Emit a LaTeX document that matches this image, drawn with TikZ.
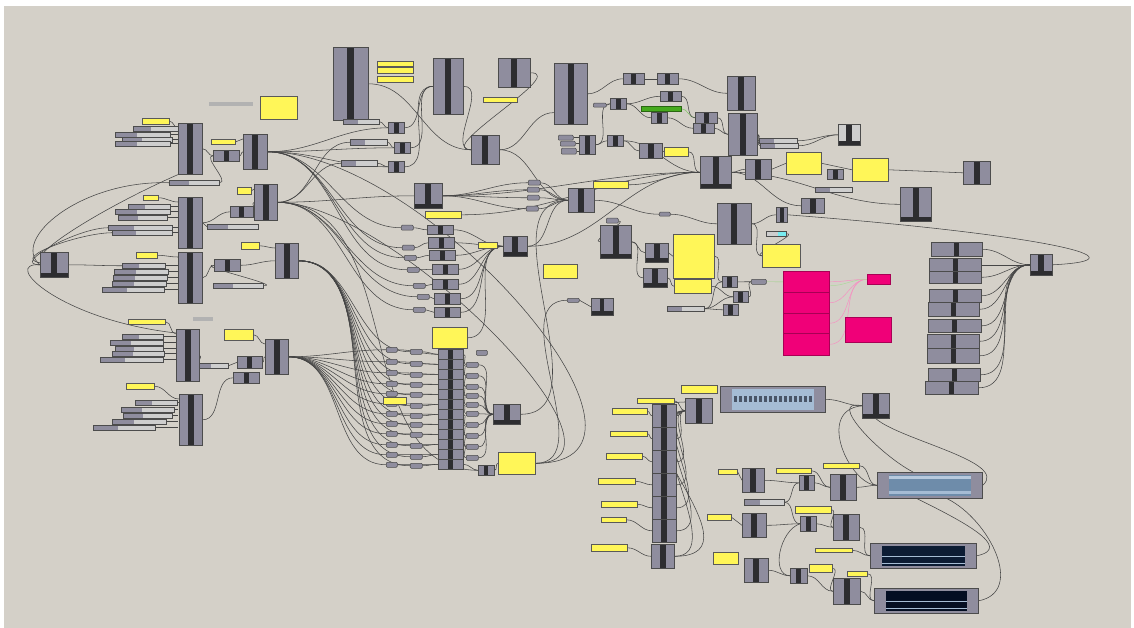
\documentclass[tikz,border=0pt]{standalone}
\usepackage{tikz}
\usetikzlibrary{calc}
\definecolor{canvas}{RGB}{212,208,200}
\definecolor{ghgray}{RGB}{143,141,158}
\definecolor{ghdark}{RGB}{45,45,48}
\definecolor{ghlight}{RGB}{206,206,206}
\definecolor{ghyellow}{RGB}{255,246,88}
\definecolor{ghpink}{RGB}{240,0,120}
\definecolor{ghgreen}{RGB}{70,170,30}
\definecolor{ghcyan}{RGB}{120,235,240}
\definecolor{wirec}{RGB}{70,70,70}
\definecolor{swlight}{RGB}{165,188,212}
\definecolor{swmid}{RGB}{110,140,170}
\definecolor{swdark}{RGB}{12,28,52}
\definecolor{swnavy}{RGB}{4,14,34}
\pgfdeclarelayer{canvaslayer}
\pgfdeclarelayer{wires}
\pgfsetlayers{canvaslayer,wires,main}

\tikzset{
  comp/.style={draw=black!70, fill=ghgray, line width=0.6pt, inner sep=0pt, anchor=north west,
    path picture={\fill[ghdark] ([xshift=-#1]path picture bounding box.north) rectangle ([xshift=#1]path picture bounding box.south);}},
  comp/.default=3pt,
  compb/.style={comp, path picture={\fill[ghdark] ([xshift=-#1]path picture bounding box.north) rectangle ([xshift=#1]path picture bounding box.south);
    \fill[ghdark] (path picture bounding box.south west) rectangle ([yshift=4pt]path picture bounding box.south east);}},
  compb/.default=3pt,
  slider/.style={draw=black!70, fill=ghlight, line width=0.5pt, inner sep=0pt, anchor=north west,
    path picture={\fill[ghgray] (path picture bounding box.south west) rectangle ($(path picture bounding box.north west)!0.4!(path picture bounding box.north east)$);}},
  panel/.style={draw=black!65, fill=ghyellow, line width=0.6pt, inner sep=0pt, anchor=north west},
  param/.style={draw=black!70, fill=ghgray, line width=0.5pt, rounded corners=1pt, inner sep=0pt, anchor=north west},
  frame/.style={draw=black!70, fill=ghgray, line width=0.6pt, inner sep=0pt, anchor=north west},
  mgbox/.style={draw=ghpink!70!black, fill=ghpink, line width=0.6pt, inner sep=0pt, anchor=north west},
  textbar/.style={fill=black!30, inner sep=0pt, anchor=north west, minimum height=4pt},
  wire/.style={draw=wirec, line width=0.55pt},
}
% node: style, name, x, y, width, height (pixels of the screenshot)
\newcommand{\gc}[6][comp]{\node[#1, minimum width=#5pt, minimum height=#6pt] (#2) at (#3,#4) {};}

\begin{document}
\begin{tikzpicture}[x=1pt, y=-1pt]
\begin{pgfonlayer}{canvaslayer}
  \fill[white] (0,0) rectangle (1134,628);
  \fill[canvas] (4,6) rectangle (1131,628);
\end{pgfonlayer}
\useasboundingbox (0,0) rectangle (1134,628);
\coordinate (xcl) at (178,0);

% left clusters
\gc[compb]{lc}{40}{252}{28}{25}
\gc[panel]{pA}{142}{118}{27}{6}
\foreach \xx/\yy/\ww [count=\i] in {133/126/45, 115/132/55, 122/137/50, 115/141/55}
  {\gc[slider]{sA\i}{\xx}{\yy}{\ww}{5}}
\gc{cA}{178}{123}{24}{51}
\gc[slider]{sA5}{169}{180}{50}{5}
\gc[panel]{pA2}{211}{139}{24}{5}
\gc[comp=2.5pt]{cA2}{213}{150}{26}{11}
\gc{cA3}{243}{134}{24}{35}
\node[textbar, minimum width=44pt] (tA) at (209,102) {};
\gc[panel]{pA3}{260}{96}{37}{23}

\gc[panel]{pB}{143}{195}{15}{5}
\foreach \xx/\yy/\ww [count=\i] in {128/204/42, 115/209/55, 118/215/49, 108/225/64, 112/230/60}
  {\gc[slider]{sB\i}{\xx}{\yy}{\ww}{5}}
\gc{cB}{178}{197}{24}{51}
\gc[slider]{sB6}{207}{224}{51}{5}
\gc[panel]{pB2}{237}{187}{14}{7}
\gc[comp=2.5pt]{cB2}{230}{206}{23}{11}
\gc{cB3}{254}{184}{23}{36}

\gc[panel]{pC}{136}{252}{21}{6}
\foreach \xx/\yy/\ww [count=\i] in {122/263/43, 114/269/54, 113/275/54, 112/281/54, 102/287/62}
  {\gc[slider]{sC\i}{\xx}{\yy}{\ww}{5}}
\gc{cC}{178}{252}{24}{51}
\gc[comp=2.5pt]{cC2}{214}{259}{26}{12}
\gc[slider]{sC6}{213}{283}{50}{5}
\gc[panel]{pC2}{241}{242}{18}{7}
\gc{cC3}{275}{243}{23}{35}

\node[textbar, minimum width=20pt] (tD) at (193,317) {};
\gc[panel]{pD}{128}{319}{37}{5}
\foreach \xx/\yy/\ww [count=\i] in {122/334/41, 110/340/53, 115/346/48, 112/351/52, 100/357/63}
  {\gc[slider]{sD\i}{\xx}{\yy}{\ww}{5}}
\gc{cD}{176}{329}{23}{52}
\gc[slider]{sD6}{199}{363}{29}{5}
\gc[panel]{pD2}{224}{329}{29}{11}
\gc[comp=2.5pt]{cD2}{237}{356}{25}{12}
\gc[comp=2.5pt]{cD3}{233}{372}{26}{11}
\gc{cD4}{265}{339}{23}{35}

\gc[panel]{pE}{126}{383}{28}{6}
\foreach \xx/\yy/\ww [count=\i] in {135/400/42, 121/407/53, 123/413/49, 112/419/54, 93/425/62}
  {\gc[slider]{sE\i}{\xx}{\yy}{\ww}{5}}
\gc{cE}{179}{394}{23}{51}

% top middle
\gc[comp=3.5pt]{cT1}{333}{47}{35}{73}
\gc[slider]{sT1}{343}{119}{36}{5}
\gc[panel]{pT1}{377}{61}{36}{5}
\gc[panel]{pT2}{377}{67}{36}{6}
\gc[panel]{pT3}{377}{76}{36}{6}
\gc{cT2}{433}{58}{30}{56}
\gc{cT3}{498}{58}{32}{29}
\gc[panel]{pT4}{483}{97}{34}{5}
\gc{cT4}{554}{63}{33}{61}
\gc[comp=2.5pt]{cs1}{388}{122}{16}{11}
\gc[comp=2.5pt]{cs2}{394}{142}{16}{11}
\gc[comp=2.5pt]{cs3}{388}{161}{16}{11}
\gc[slider]{sT2}{350}{139}{37}{6}
\gc[slider]{sT3}{341}{160}{36}{6}
\gc{cT5}{471}{135}{28}{29}
\gc[compb]{cT6}{414}{183}{28}{25}
\gc[panel]{pT5}{425}{211}{36}{7}

% middle column
\foreach \xx/\yy [count=\i] in {401/225, 402/245, 404/255, 407/267, 413/283, 417/294, 413/307}
  {\gc[param]{m\i}{\xx}{\yy}{12}{5}}
\foreach \xx/\yy/\hh [count=\i] in {427/225/9, 428/237/11, 429/250/10, 432/264/10, 432/279/10, 434/293/11, 434/307/10}
  {\gc[comp=2.5pt]{mc\i}{\xx}{\yy}{26}{\hh}}
\gc[panel]{pM1}{478}{242}{19}{6}
\gc[compb]{cM1}{503}{236}{24}{20}
\gc[panel]{pM2}{543}{264}{34}{14}
\gc[panel]{pM3}{432}{327}{35}{21}
\foreach \yy [count=\i] in {349,359,...,459}
  {\gc[comp=2.5pt]{col\i}{438}{\yy}{25}{10}}
\foreach \yy [count=\i] in {347,359,370,381,391,401,411,421,431,442,452,462}
  {\gc[param]{la\i}{386}{\yy}{11}{5}}
\foreach \yy [count=\i] in {349,361,372,382,392,403,413,422,432,443,454,463}
  {\gc[param]{lb\i}{410}{\yy}{12}{5}}
\foreach \yy [count=\i] in {362,373,384,393,402,411,422,433,444,455}
  {\gc[param]{ra\i}{466}{\yy}{12}{5}}
\gc[param]{ra0}{476}{350}{11}{5}
\gc[panel]{pM4}{383}{397}{23}{7}
\gc[compb]{cM2}{493}{404}{27}{20}
\gc[panel]{pM5}{498}{452}{37}{22}
\gc[comp=2pt]{cM3}{478}{465}{16}{10}

% upper right
\foreach \xx/\yy [count=\i] in {528/180, 527/187, 527/195, 526/206}
  {\gc[param]{u\i}{\xx}{\yy}{12}{5}}
\gc{cU1}{568}{188}{26}{24}
\gc[panel]{pU1}{593}{181}{35}{7}
\gc[param]{u5}{593}{103}{13}{4}
\gc[comp=2.5pt]{cU2}{610}{98}{16}{11}
\gc[comp=2.5pt]{cU3}{623}{73}{21}{11}
\gc[comp=2.5pt]{cU4}{657}{73}{21}{11}
\gc[comp=2.5pt]{cU5}{660}{91}{21}{10}
\node[draw=ghgreen!60!black, fill=ghgreen, line width=0.5pt, inner sep=0pt, anchor=north west,
  minimum width=40pt, minimum height=5pt] (gs) at (641,106) {};
\gc[comp=2.5pt]{cU6}{651}{112}{16}{11}
\gc[param]{u6}{558}{135}{15}{5}
\gc[param]{u7}{560}{141}{15}{5}
\gc[param]{u8}{561}{148}{15}{6}
\gc[comp=2.5pt]{cU7}{579}{135}{16}{19}
\gc[comp=2.5pt]{cU8}{607}{135}{16}{11}
\gc{cU9}{639}{143}{23}{15}
\gc[panel]{pU2}{664}{147}{24}{9}
\gc{cU10}{727}{76}{28}{34}
\gc[comp=2.5pt]{cU11}{695}{112}{22}{11}
\gc[comp=2.5pt]{cU12}{693}{123}{21}{10}
\gc{cU13}{728}{113}{29}{42}
\gc[slider]{sU1}{759}{138}{38}{5}
\gc[slider]{sU2}{760}{143}{38}{5}
\gc[compb, fill=ghlight]{cU14}{838}{124}{22}{21}
\gc[compb]{cU15}{700}{156}{31}{32}
\gc{cU16}{745}{159}{26}{20}
\gc[panel]{pU3}{786}{152}{35}{22}
\gc[comp=2.5pt]{cU17}{827}{169}{16}{10}
\gc[panel]{pU4}{852}{158}{36}{23}
\gc{cU18}{963}{161}{27}{23}
\gc[slider, fill=ghlight]{sU3}{815}{187}{37}{5}
\gc[compb]{cU19}{900}{187}{31}{34}
\gc{cU20}{801}{198}{23}{15}
\gc[param]{u9}{659}{212}{11}{4}
\gc[param]{u10}{606}{218}{12}{5}
\gc[compb]{cU21}{600}{225}{31}{33}
\gc[compb]{cU22}{645}{243}{23}{19}
\gc[compb]{cU23}{643}{268}{24}{19}
\gc[panel]{pU5}{673}{234}{41}{44}
\gc[panel]{pU6}{674}{279}{37}{14}
\gc{cU24}{717}{203}{34}{41}
\gc[comp=2pt]{cU25}{776}{207}{11}{15}
\node[slider, minimum width=20pt, minimum height=5pt, path picture={\fill[ghcyan] ([xshift=-8pt]path picture bounding box.north east) rectangle (path picture bounding box.south east);}] (cy) at (766,231) {};
\gc[panel]{pU7}{762}{244}{38}{23}
\gc[comp=2.5pt]{cU26}{722}{276}{15}{11}
\gc[comp=2.5pt]{cU27}{733}{291}{15}{11}
\gc[comp=2.5pt]{cU28}{723}{304}{15}{11}
\gc[param]{u11}{751}{279}{15}{5}
\gc[slider]{sU4}{667}{306}{37}{5}
\gc[param]{u12}{567}{298}{12}{4}
\gc[compb=2pt]{cU29}{591}{298}{22}{17}
\foreach \yy/\hh [count=\i] in {271/21, 292/21, 313/20, 333/22}
  {\gc[mgbox]{mg\i}{783}{\yy}{46}{\hh}}
\gc[mgbox]{mg5}{845}{317}{46}{25}
\gc[mgbox]{mg6}{867}{274}{23}{10}

% right stack
\foreach \xx/\yy/\ww/\hh [count=\i] in {931/242/51/14, 929/258/52/13, 929/271/52/12, 929/289/52/13, 928/302/51/14,
    928/319/53/13, 927/334/52/14, 927/348/52/15, 928/368/52/13, 925/381/53/13}
  {\gc[comp=2.5pt]{r\i}{\xx}{\yy}{\ww}{\hh}}
\gc[compb]{cR}{1030}{254}{22}{21}

% bottom right
\gc[panel]{kp1}{681}{385}{36}{8}
\gc[frame]{bl1}{720}{386}{105}{26}
\gc[compb]{kc1}{862}{393}{27}{25}
\gc[panel]{kp2}{637}{398}{37}{5}
\foreach \yy [count=\i] in {404,427,450,473,496,519}
  {\gc{b\i}{652}{\yy}{24}{23}}
\gc{kc2}{685}{398}{27}{25}
\foreach \xx/\yy/\ww/\hh [count=\i] in {612/408/35/6, 610/431/37/5, 606/453/36/6, 598/478/37/6, 601/501/36/6, 601/517/25/5, 591/544/36/7}
  {\gc[panel]{ky\i}{\xx}{\yy}{\ww}{\hh}}
\gc{kc3}{651}{544}{23}{24}
\gc[panel]{kp3}{718}{469}{19}{5}
\gc{kc4}{742}{468}{22}{24}
\gc[panel]{kp4}{776}{468}{35}{5}
\gc[comp=2.5pt]{kc5}{799}{475}{15}{15}
\gc[panel]{kp5}{823}{463}{36}{5}
\gc{kc6}{830}{474}{26}{26}
\gc[frame]{bl2}{877}{472}{105}{26}
\gc[slider]{ks}{744}{499}{40}{6}
\gc[panel]{kp6}{795}{506}{36}{7}
\gc[comp=2.5pt]{kc7}{800}{516}{16}{15}
\gc{kc8}{833}{514}{26}{26}
\gc[panel]{kp7}{707}{514}{24}{6}
\gc{kc9}{742}{513}{24}{24}
\gc[panel]{kp8}{815}{548}{37}{4}
\gc[frame]{bl3}{870}{543}{106}{25}
\gc[panel]{kp9}{713}{552}{25}{12}
\gc{kc10}{744}{558}{24}{24}
\gc[comp=2.5pt]{kc11}{790}{568}{17}{15}
\gc[panel]{kp10}{809}{564}{23}{8}
\gc[panel]{kp11}{847}{571}{20}{5}
\gc{kc12}{833}{578}{27}{26}
\gc[frame]{bl4}{874}{588}{104}{25}

% swatch interiors
\fill[swlight] ([xshift=12pt,yshift=-3pt]bl1.north west) rectangle ([xshift=-12pt,yshift=3pt]bl1.south east);
\draw[swdark!75, line width=6pt, dash pattern=on 3pt off 2pt] ([xshift=14pt]bl1.west) -- ([xshift=-14pt]bl1.east);
\fill[swmid] ([xshift=12pt,yshift=-3pt]bl2.north west) rectangle ([xshift=-12pt,yshift=3pt]bl2.south east);
\fill[swlight!80!white] ([xshift=12pt,yshift=-4pt]bl2.north west) rectangle ([xshift=-12pt,yshift=-7pt]bl2.north east);
\fill[swlight] ([xshift=12pt,yshift=5pt]bl2.south west) rectangle ([xshift=-12pt,yshift=8pt]bl2.south east);
\fill[swdark] ([xshift=12pt,yshift=-3pt]bl3.north west) rectangle ([xshift=-12pt,yshift=3pt]bl3.south east);
\draw[swlight, line width=1.2pt] ([xshift=12pt,yshift=-1pt]bl3.west) -- ([xshift=-12pt,yshift=-1pt]bl3.east);
\draw[swlight, line width=1.2pt] ([xshift=12pt,yshift=5pt]bl3.south west) -- ([xshift=-12pt,yshift=5pt]bl3.south east);
\fill[swnavy] ([xshift=12pt,yshift=-3pt]bl4.north west) rectangle ([xshift=-12pt,yshift=3pt]bl4.south east);
\draw[swlight, line width=1.2pt] ([xshift=12pt,yshift=-1pt]bl4.west) -- ([xshift=-12pt,yshift=-1pt]bl4.east);
\draw[swlight, line width=1.2pt] ([xshift=12pt,yshift=5pt]bl4.south west) -- ([xshift=-12pt,yshift=5pt]bl4.south east);

\begin{pgfonlayer}{wires}
  % left clusters
  \foreach \s in {sA1,sA2,sA3,sA4,sB1,sB2,sB3,sB4,sB5,sC1,sC2,sC3,sC4,sC5,sD1,sD2,sD3,sD4,sD5,sE1,sE2,sE3,sE4,sE5}
    {\draw[wire] (\s.east) -- (\s.east -| xcl);}
  \foreach \p/\c in {pA/cA, pB/cB, pC/cC, pD/cD, pE/cE}
    {\draw[wire] (\p.east) to[out=0,in=180] ([yshift=-5pt]\c.north west);}
  \draw[wire] (cA.east) to[out=0,in=180] (cA2.west);
  \draw[wire] (sA5.east) to[out=0,in=180] (cA2.west);
  \draw[wire] (cA2.east) to[out=0,in=180] (cA3.west);
  \draw[wire] (pA2.east) to[out=0,in=180] ([yshift=-5pt]cA3.north west);
  \draw[wire] (cB.east) to[out=0,in=180] (cB2.west);
  \draw[wire] (cB2.east) to[out=0,in=180] (cB3.west);
  \draw[wire] (pB2.east) to[out=0,in=180] ([yshift=-5pt]cB3.north west);
  \draw[wire] (cB.east) to[out=0,in=180] (sB6.west);
  \draw[wire] (cC.east) to[out=0,in=180] (cC2.west);
  \draw[wire] (sC6.east) to[out=0,in=180] (cC2.west);
  \draw[wire] (cC2.east) to[out=0,in=180] (cC3.west);
  \draw[wire] (pC2.east) to[out=0,in=180] ([yshift=-5pt]cC3.north west);
  \draw[wire] (cD.east) to[out=0,in=180] (sD6.west);
  \draw[wire] (sD6.east) to[out=0,in=180] (cD2.west);
  \draw[wire] (cD2.east) to[out=0,in=180] (cD4.west);
  \draw[wire] (pD2.east) to[out=0,in=180] ([yshift=-5pt]cD4.north west);
  \draw[wire] (cE.east) to[out=0,in=180] (cD3.west);
  \draw[wire] (lc.east) to[out=0,in=180] (sC1.west);
  \draw[wire] (lc.west) to[out=180,in=180] (sB4.west);
  \draw[wire] ([yshift=2pt]lc.west) to[out=170,in=180] (sB5.west);
  \draw[wire] ([xshift=-10pt]lc.north) .. controls (60,235) and (120,200) .. (cA.south west);
  \draw[wire] (lc.west) .. controls (0,262) and (60,320) .. ([yshift=-4pt]cD.north west);
  \draw[wire] (lc.west) .. controls (10,240) and (80,180) .. (sA5.west);
  % bundles to the middle
  \foreach \t in {cs1,cs2,cs3,m1,m2,m3,m4}
    {\draw[wire] (cA3.east) to[out=0,in=180] (\t.west);}
  \foreach \t in {cT6,sT2,sT3,m5,m6,m7,cM3}
    {\draw[wire] (cB3.east) to[out=0,in=180] (\t.west);}
  \foreach \i in {1,...,12} {
    \draw[wire] (cC3.east) to[out=0,in=180] (lb\i.west);
    \draw[wire] (cD4.east) to[out=0,in=180] (la\i.west);
    \draw[wire] (la\i.east) to[out=0,in=180] (col\i.west);
    \draw[wire] (lb\i.east) to[out=0,in=180] (col\i.west);
  }
  \draw[wire] (cA3.east) to[out=0,in=0] (pM5.east);
  \draw[wire] (cB3.east) to[out=0,in=0,looseness=0.8] (pM5.east);
  \foreach \i in {1,...,10} {
    \draw[wire] (col\i.east) to[out=0,in=180] (ra\i.west);
    \draw[wire] (ra\i.east) to[out=0,in=180] (cM2.west);
  }
  \draw[wire] (col12.east) to[out=0,in=180] (cM3.west);
  \draw[wire] (cM3.east) to[out=0,in=180] (pM5.west);
  \foreach \i in {1,...,7} {
    \draw[wire] (m\i.east) to[out=0,in=180] (mc\i.west);
    \draw[wire] (mc\i.east) to[out=0,in=180] (cM1.west);
  }
  \draw[wire] (pM1.east) to[out=0,in=180] (cM1.west);
  \draw[wire] (pM3.east) to[out=0,in=180] (cM1.west);
  \draw[wire] (cM1.east) to[out=0,in=180] (cU1.west);
  \draw[wire] (cM2.east) to[out=0,in=180] (cU1.west);
  \draw[wire] (pM5.east) to[out=0,in=180] (u12.west);
  \draw[wire] (u12.east) -- (cU29.west);
  % top middle
  \draw[wire] (sT1.east) to[out=0,in=180] (cs1.west);
  \draw[wire] (sT2.east) to[out=0,in=180] (cs2.west);
  \draw[wire] (sT3.east) to[out=0,in=180] (cs3.west);
  \foreach \s in {cs1,cs2,cs3}
    {\draw[wire] (\s.east) to[out=0,in=180] (cT2.west);}
  \draw[wire] (cT1.east) to[out=0,in=180] (cT5.west);
  \draw[wire] (cT2.east) to[out=0,in=180] (cT5.west);
  \draw[wire] (cT3.east) to[out=0,in=180] (cT5.west);
  \draw[wire] (cT5.east) to[out=0,in=180] ([yshift=12pt]cT4.south west);
  \draw[wire] (cT5.east) to[out=0,in=180] (cU1.west);
  \foreach \t in {u1,u2,u3,u4}
    {\draw[wire] (cT6.east) to[out=0,in=180] (\t.west);
     \draw[wire] (\t.east) to[out=0,in=180] (cU1.west);}
  % upper right
  \draw[wire] (cT4.east) to[out=0,in=180] (cU3.west);
  \draw[wire] (cU3.east) to[out=0,in=180] (cU4.west);
  \draw[wire] (cU4.east) to[out=0,in=180] (cU10.west);
  \draw[wire] (u5.east) -- (cU2.west);
  \draw[wire] (cU2.east) to[out=0,in=180] (cU5.west);
  \draw[wire] (cU2.east) to[out=0,in=180] (cU6.west);
  \draw[ghgreen!70, line width=0.5pt] (gs.east) to[out=0,in=180] (cU11.west);
  \draw[wire] (cU5.east) to[out=0,in=180] (cU11.west);
  \draw[wire] (cU6.east) to[out=0,in=180] (cU12.west);
  \draw[wire] (cU11.east) to[out=0,in=180] (cU13.west);
  \draw[wire] (cU12.east) to[out=0,in=180] (cU13.west);
  \foreach \s in {u6,u7,u8}
    {\draw[wire] (\s.east) -- (\s.east -| cU7.west);}
  \draw[wire] (cU7.east) to[out=0,in=180] (cU2.west);
  \draw[wire] (cU7.east) to[out=0,in=180] (cU8.west);
  \draw[wire] (cU8.east) to[out=0,in=180] (cU9.west);
  \draw[wire] (cU8.east) to[out=0,in=180] (cU15.west);
  \draw[wire] (cU9.east) -- (pU2.west);
  \draw[wire] (pU2.east) to[out=0,in=180] (cU15.west);
  \draw[wire] (pU1.east) to[out=0,in=180] (cU15.west);
  \draw[wire] (cT6.east) to[out=0,in=180] (cU15.west);
  \draw[wire] (cM1.east) to[out=0,in=180] (cU15.west);
  \draw[wire] (pT5.east) to[out=0,in=180] (cU15.west);
  \draw[wire] (cU13.east) to[out=0,in=180] (sU1.west);
  \draw[wire] (cU13.east) to[out=0,in=180] (sU2.west);
  \draw[wire] (sU1.east) to[out=0,in=180] (cU14.west);
  \draw[wire] (sU2.east) to[out=0,in=180] (cU14.west);
  \draw[wire] (cU15.east) to[out=0,in=180] (cU16.west);
  \draw[wire] (cU16.east) -- (pU3.west);
  \draw[wire] (pU3.east) -- (pU4.west);
  \draw[wire] (pU4.east) -- (cU18.west);
  \draw[wire] (cU15.east) to[out=0,in=180] (cU19.west);
  \draw[wire] (cU15.east) to[out=0,in=180] (cU20.west);
  \draw[wire] (cU1.east) to[out=0,in=180] (u9.west);
  \draw[wire] (u9.east) to[out=0,in=180] (cU24.west);
  \draw[wire] (u10.east) to[out=0,in=180] (cU21.west);
  \draw[wire] (cU21.east) to[out=0,in=180] (cU22.west);
  \draw[wire] (cU21.east) to[out=0,in=180] (cU23.west);
  \draw[wire] (cU22.east) to[out=0,in=180] (pU5.west);
  \draw[wire] (cU23.east) to[out=0,in=180] (pU6.west);
  \draw[wire] (pU5.east) to[out=0,in=180] (cU26.west);
  \draw[wire] (pU6.east) to[out=0,in=180] (cU27.west);
  \foreach \t in {cU26,cU27,cU28}
    {\draw[wire] (sU4.east) to[out=0,in=180] (\t.west);}
  \draw[wire] (cU26.east) to[out=0,in=180] (u11.west);
  \draw[wire] (cU27.east) to[out=0,in=180] (u11.west);
  \draw[ghgreen!55, line width=0.45pt] (u11.east) to[out=0,in=180] (mg1.west);
  \draw[wire] (cU24.east) to[out=0,in=180] (cU25.west);
  \draw[wire] (cU24.east) to[out=0,in=180] (pU7.west);
  \draw[wire] (cy.east) to[out=0,in=180] (pU7.west);
  \foreach \i in {1,...,4}
    {\draw[ghpink!45, line width=0.45pt] (mg\i.east) to[out=0,in=180] (mg6.west);}
  \draw[ghgreen!45, line width=0.45pt] ([yshift=-4pt]mg1.east) to[out=0,in=180] (mg6.west);
  % right stack
  \foreach \i in {1,...,10}
    {\draw[wire] (r\i.east) to[out=0,in=180] (cR.west);}
  \draw[wire] (cR.east) .. controls (1150,260) and (1050,235) .. (cU25.east);
  % bottom right
  \foreach \i in {1,...,6} {
    \draw[wire] (ky\i.east) to[out=0,in=180] (b\i.west);
    \draw[wire] (b\i.east) to[out=0,in=180] (kc2.west);
  }
  \draw[wire] (ky7.east) to[out=0,in=180] (kc3.west);
  \draw[wire] (kp2.east) to[out=0,in=180] (kc2.west);
  \draw[wire] (kc3.east) to[out=0,in=180] (kc2.west);
  \draw[wire] (kc3.east) to[out=0,in=180,looseness=1.6] ([yshift=-4pt]kc2.north west);
  \draw[wire] (bl1.east) to[out=0,in=180] (kc1.west);
  \draw[wire] (kc1.west) .. controls (815,410) and (850,485) .. (bl2.west);
  \draw[wire] (kc1.west) .. controls (825,398) and (880,455) .. ([xshift=36pt]bl2.north west);
  \draw[wire] (kc1.south) .. controls (900,440) and (1010,462) .. (bl2.east);
  \draw[wire] ([xshift=40pt]bl2.south west) .. controls (960,520) and (1015,548) .. (bl3.east);
  \draw[wire] ([xshift=70pt]bl2.south west) .. controls (990,520) and (1025,592) .. (bl4.east);
  \draw[wire] (kp3.east) -- (kc4.west);
  \draw[wire] (kc4.east) to[out=0,in=180] (kc5.west);
  \draw[wire] (kp4.east) to[out=0,in=180] (kc6.west);
  \draw[wire] (kc5.east) to[out=0,in=180] (kc6.west);
  \draw[wire] (kp5.east) to[out=0,in=180] (bl2.west);
  \draw[wire] (kc6.east) to[out=0,in=180] (bl2.west);
  \draw[wire] (ks.east) to[out=0,in=180] (kc5.west);
  \draw[wire] (ks.east) to[out=0,in=180] (kc7.west);
  \draw[wire] (kp6.east) to[out=0,in=180] (kc8.west);
  \draw[wire] (kc7.east) to[out=0,in=180] (kc8.west);
  \draw[wire] (kc8.east) to[out=0,in=180] (bl3.west);
  \draw[wire] (kp8.east) to[out=0,in=180] (bl3.west);
  \draw[wire] (kp7.east) -- (kc9.west);
  \draw[wire] (kc9.east) to[out=0,in=180] (kc7.west);
  \draw[wire] (kc7.west) .. controls (780,530) and (770,575) .. (kc11.west);
  \draw[wire] (kc10.east) to[out=0,in=180] (kc11.west);
  \draw[wire] (kc11.east) to[out=0,in=180] (kc12.west);
  \draw[wire] (kp10.east) to[out=0,in=180] (kc12.west);
  \draw[wire] (kp11.east) to[out=0,in=180] (bl4.west);
  \draw[wire] (kc12.east) to[out=0,in=180] (bl4.west);
\end{pgfonlayer}
\end{tikzpicture}
\end{document}
